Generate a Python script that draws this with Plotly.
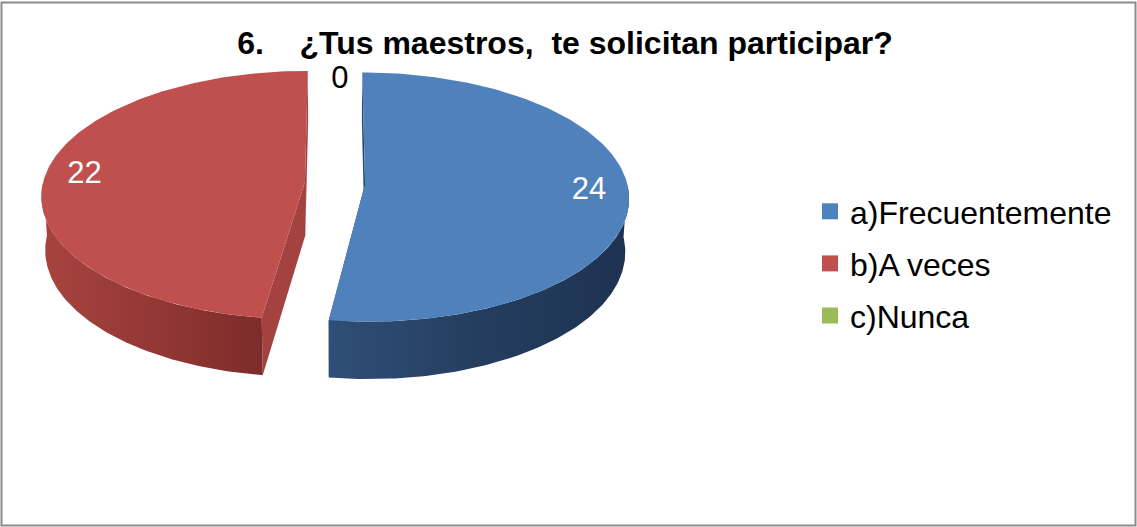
import numpy as np
import plotly.graph_objects as go

# ---------------- data ----------------
title_text = "6.\u00a0\u00a0\u00a0\u00a0¿Tus maestros,\u00a0\u00a0te solicitan participar?"
categories = ["a)Frecuentemente", "b)A veces", "c)Nunca"]
values = [24, 22, 0]
top_colors = ["#4F81BD", "#C0504D", "#9BBB59"]
wall_scales = [
    [[0, "#2F4F78"], [0.45, "#253F61"], [1, "#1E3250"]],
    [[0, "#A8433F"], [0.5, "#933835"], [1, "#7C2C2A"]],
    [[0, "#7A9445"], [1, "#5C7034"]],
]
cut_colors = ["#2A4769", "#A3423F", "#6F873F"]
label_colors = ["white", "white", "black"]

# ---------------- geometry (3D pie projection) ----------------
W, H = 1137, 527
CX, CY = 335.0, 183.0
S = 262.0
ALPHA = np.radians(28)
DCAM = 8.4
DEPTH = 0.233
EXPLODE = 0.115
FONT = "Liberation Sans, Arial, sans-serif"


def project(u, v, h):
    u = np.asarray(u, float)
    v = np.asarray(v, float)
    h = np.asarray(h, float) * np.ones_like(u)
    s = -v * np.sin(ALPHA) + h * np.cos(ALPHA)
    t = v * np.cos(ALPHA) + h * np.sin(ALPHA)
    k = DCAM / (DCAM - t)
    return CX + S * u * k, CY - S * s * k


total = float(sum(values))
fracs = [v / total for v in values]
starts = np.concatenate([[0], np.cumsum(fracs)[:-1]]) * 360.0
ends = np.cumsum(fracs) * 360.0

fig = go.Figure()
lab_x, lab_y, lab_t, lab_c = [], [], [], []

for i, (val, a0, a1) in enumerate(zip(values, starts, ends)):
    mid = np.radians((a0 + a1) / 2)
    if val > 0:
        eu, ev = EXPLODE * np.sin(mid), -EXPLODE * np.cos(mid)
        th = np.radians(np.linspace(a0, a1, 160))
        ru, rv = eu + np.sin(th), ev - np.cos(th)

        # cut faces
        for ang in (a0, a1):
            r = np.radians(ang)
            pu = [eu, eu + np.sin(r), eu + np.sin(r), eu]
            pv = [ev, ev - np.cos(r), ev - np.cos(r), ev]
            ph = [0, 0, -DEPTH, -DEPTH]
            xs, ys = project(pu, pv, ph)
            fig.add_trace(go.Scatter(x=list(xs) + [xs[0]], y=list(ys) + [ys[0]],
                                     fill="toself", fillcolor=cut_colors[i],
                                     mode="lines", line=dict(width=0, color=cut_colors[i]),
                                     showlegend=False, hoverinfo="skip"))
        # front wall
        w0, w1 = max(a0, 90.0), min(a1, 270.0)
        if w1 > w0:
            tw = np.radians(np.linspace(w0, w1, 120))
            wu, wv = eu + np.sin(tw), ev - np.cos(tw)
            xt, yt = project(wu, wv, 0.0)
            xb, yb = project(wu, wv, -DEPTH)
            xs = np.concatenate([xt, xb[::-1], xt[:1]])
            ys = np.concatenate([yt, yb[::-1], yt[:1]])
            fig.add_trace(go.Scatter(x=xs, y=ys, fill="toself",
                                     fillgradient=dict(type="horizontal", colorscale=wall_scales[i]),
                                     mode="lines", line=dict(width=0),
                                     showlegend=False, hoverinfo="skip"))
        # top face
        xr, yr = project(ru, rv, 0.0)
        ax, ay = project([eu], [ev], 0.0)
        xs = np.concatenate([ax, xr, ax])
        ys = np.concatenate([ay, yr, ay])
        fig.add_trace(go.Scatter(x=xs, y=ys, fill="toself", fillcolor=top_colors[i],
                                 mode="lines", line=dict(width=0, color=top_colors[i]),
                                 showlegend=False, hoverinfo="skip"))
        lr = 0.85
        lx, ly = project([eu + lr * np.sin(mid)], [ev - lr * np.cos(mid)], 0.0)
    else:
        lr = 0.92
        lx, ly = project([lr * np.sin(mid) + 0.02], [-lr * np.cos(mid)], 0.0)
    lab_x.append(float(lx[0]))
    lab_y.append(float(ly[0]))
    lab_t.append(str(val))
    lab_c.append(label_colors[i])

fig.add_trace(go.Scatter(x=lab_x, y=lab_y, mode="text", text=lab_t,
                         textfont=dict(family=FONT, size=31, color=lab_c),
                         showlegend=False, hoverinfo="skip"))

# legend entries
for i, cat in enumerate(categories):
    fig.add_trace(go.Scatter(x=[None], y=[None], mode="markers", name=cat,
                             legendgroup=f"g{i}",
                             marker=dict(symbol="square", size=16, color=top_colors[i])))

fig.update_layout(
    width=W, height=H,
    margin=dict(l=0, r=0, t=0, b=0),
    paper_bgcolor="white", plot_bgcolor="white",
    xaxis=dict(range=[0, W], visible=False, fixedrange=True),
    yaxis=dict(range=[H, 0], visible=False, fixedrange=True),
    title=dict(text=title_text, x=565 / W, xanchor="center", y=1 - 43 / H, yanchor="middle",
               font=dict(family=FONT, size=32, color="black", weight="bold")),
    legend=dict(x=810 / W, xanchor="left", y=1 - 184 / H, yanchor="top",
                font=dict(family=FONT, size=32, color="black"),
                tracegroupgap=7.5, bgcolor="rgba(0,0,0,0)"),
    shapes=[dict(type="rect", xref="x", yref="y", x0=1.5, x1=1135.5, y0=2.5, y1=525.5,
                 line=dict(color="#8C8C8C", width=2))],
    showlegend=True,
)

fig.write_html("out.html", config={"displayModeBar": False},
               post_script="document.body.style.margin='0';")
